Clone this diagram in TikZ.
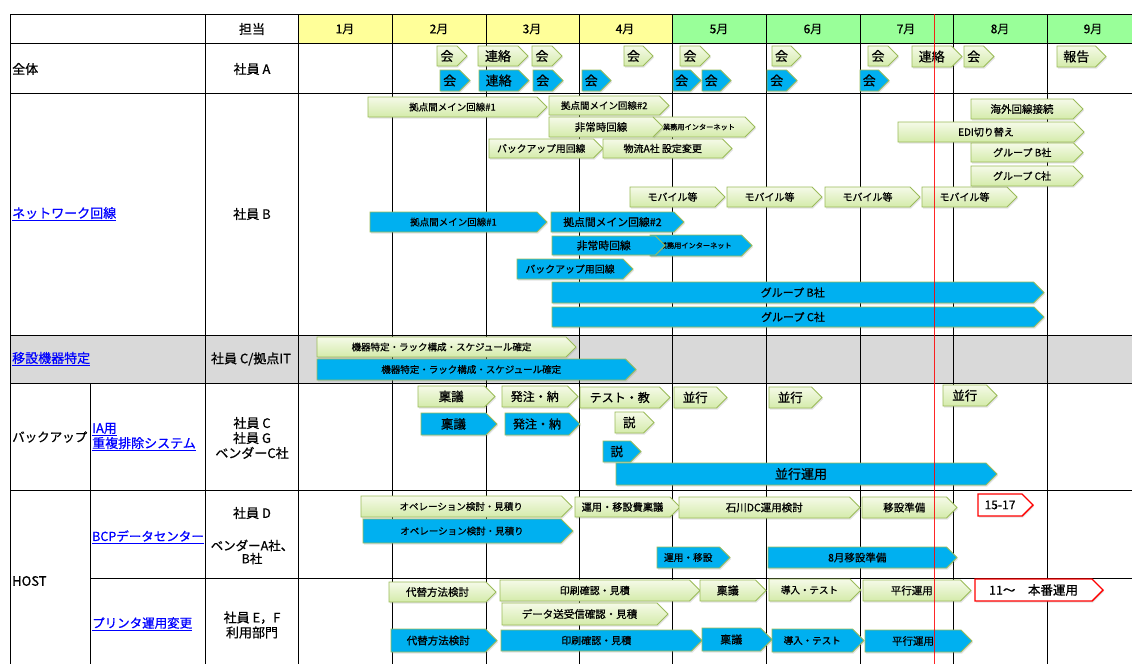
\documentclass[tikz,border=0pt]{standalone}
\usepackage{fontspec}
\setmainfont{Noto Sans CJK JP}[UprightFeatures={FakeBold=0.7}]
\usetikzlibrary{shadows}
\definecolor{gborder}{HTML}{9BBB59}
\definecolor{gtop}{HTML}{F5FAE8}
\definecolor{gbot}{HTML}{D4EBAA}
\definecolor{bfill}{HTML}{00B0F0}
\definecolor{hyell}{HTML}{FFFF99}
\definecolor{hgreen}{HTML}{99FF99}
\definecolor{rowgray}{HTML}{D9D9D9}
\definecolor{linkblue}{HTML}{0000FF}
\tikzset{
  shad/.style={drop shadow={opacity=0.22, shadow xshift=1.2pt, shadow yshift=-1.5pt}},
  gbar/.style={draw=gborder, line width=0.9pt, top color=gtop, bottom color=gbot, shad},
  bbar/.style={draw=gborder, line width=0.9pt, fill=bfill, shad},
  rbar/.style={draw=red, line width=1.4pt, fill=white, shad},
  bartext/.style={inner sep=0pt, text=black},
  gridline/.style={line width=1pt, black},
  lbl/.style={inner sep=0pt, font=\fontsize{13}{15}\selectfont},
  link/.style={lbl, text=linkblue},
  monthlbl/.style={inner sep=0pt, font=\fontsize{12}{14}\selectfont},
}
\newcommand\ganttbar[8][10]{%
  \path[#3] (#4,#6) -- ({#5-0.5*(#7-#6)},#6) -- (#5,{0.5*(#6+#7)}) -- ({#5-0.5*(#7-#6)},#7) -- (#4,#7) -- cycle;
  \node[bartext, font=\fontsize{#1}{#1}\selectfont] (#2) at ({0.5*(#4+#5-0.5*(#7-#6))},{0.5*(#6+#7)}) {#8};
}
\newcommand\ul[1]{\underline{#1}}
\begin{document}
\begin{tikzpicture}[x=1pt,y=-1pt]
\useasboundingbox (0,0) rectangle (1132,664);
\fill[white] (0,0) rectangle (1132,664);
% fills
\fill[hyell] (298,14) rectangle (672,43);
\fill[hgreen] (672,14) rectangle (1140,43);
\fill[rowgray] (10,335) rectangle (1140,383);
% grid
\foreach \yy in {14,43,93,335,383,490} \draw[gridline] (10,\yy) -- (1140,\yy);
\draw[gridline] (90,578) -- (1140,578);
\foreach \xx in {10,205,298,392,486,579,672,766,860,953,1047} \draw[gridline] (\xx,14) -- (\xx,664);
\draw[gridline] (90,383) -- (90,664);
% header
\node[lbl] (h0) at (252,29) {担当};
\node[monthlbl] (m1) at (345,29) {1月};
\node[monthlbl] (m2) at (439,29) {2月};
\node[monthlbl] (m3) at (532,29) {3月};
\node[monthlbl] (m4) at (625,29) {4月};
\node[monthlbl] (m5) at (719,29) {5月};
\node[monthlbl] (m6) at (813,29) {6月};
\node[monthlbl] (m7) at (906,29) {7月};
\node[monthlbl] (m8) at (1000,29) {8月};
\node[monthlbl] (m9) at (1093,29) {9月};
% row labels
\node[lbl, anchor=west] (r1) at (12,69) {全体};
\node[lbl] (p1) at (252,69) {社員 A};
\node[link, anchor=west] (r2) at (12,214) {\ul{ネットワーク回線}};
\node[lbl] (p2) at (252,214) {社員 B};
\node[link, anchor=west] (r3) at (12,359) {\ul{移設機器特定}};
\node[lbl] (p3) at (251,359) {社員 C/拠点IT};
\node[lbl, anchor=west, font=\fontsize{12.5}{15}\selectfont] (r4) at (12,437) {バックアップ};
\node[link, anchor=west, align=left] (r4a) at (92,437) {\ul{IA用}\\\ul{重複排除システム}};
\node[lbl, align=center] (p4) at (252,438) {社員 C\\社員 G\\ベンダーC社};
\node[lbl, anchor=west] (r5) at (12,581) {HOST};
\node[link, anchor=west, font=\fontsize{12.5}{15}\selectfont] (r5a) at (92,537) {\ul{BCPデータセンター}};
\node[lbl] (p5) at (252,513) {社員 D};
\node[lbl, align=center, font=\fontsize{12.5}{13}\selectfont] (p5b) at (252,552) {ベンダーA社、\\B社};
\node[link, anchor=west, font=\fontsize{12.5}{15}\selectfont] (r5b) at (92,624) {\ul{プリンタ運用変更}};
\node[lbl, align=center] (p6) at (252,625) {社員 E，F\\利用部門};
% ===== 全体 =====
\ganttbar[13]{z1}{gbar}{437}{467}{46}{66}{会}
\ganttbar[13]{z2}{gbar}{478}{528}{46}{66}{連絡}
\ganttbar[13]{z3}{gbar}{532}{562}{46}{66}{会}
\ganttbar[13]{z4}{gbar}{624}{653}{46}{66}{会}
\ganttbar[13]{z5}{gbar}{680}{710}{46}{66}{会}
\ganttbar[13]{z6}{gbar}{772}{801}{46}{66}{会}
\ganttbar[13]{z7}{gbar}{868}{898}{46}{66}{会}
\ganttbar[13]{z8}{gbar}{912}{962}{46}{67}{連絡}
\ganttbar[13]{z9}{gbar}{964}{994}{46}{67}{会}
\ganttbar[13]{z10}{gbar}{1057}{1106}{46}{67}{報告}
\ganttbar[13]{zb1}{bbar}{440}{470}{70}{91}{会}
\ganttbar[13]{zb2}{bbar}{479}{529}{70}{91}{連絡}
\ganttbar[13]{zb3}{bbar}{533}{563}{70}{91}{会}
\ganttbar[13]{zb4}{bbar}{582}{611}{70}{91}{会}
\ganttbar[13]{zb5}{bbar}{673}{701}{70}{91}{会}
\ganttbar[13]{zb6}{bbar}{702}{731}{70}{91}{会}
\ganttbar[13]{zb7}{bbar}{767}{797}{70}{91}{会}
\ganttbar[13]{zb8}{bbar}{860}{889}{70}{91}{会}
% ===== ネットワーク回線 =====
\ganttbar[9.5]{n1}{gbar}{368}{547}{97}{117}{拠点間メイン回線\#1}
\ganttbar[9.5]{n2}{gbar}{549}{669}{96}{115}{拠点間メイン回線\#2}
\ganttbar[7.2]{n4}{gbar}{653}{755}{117}{137}{業務用インターネット}
\ganttbar[10.5]{n3}{gbar}{549}{663}{117}{137}{非常時回線}
\ganttbar[9.8]{n5}{gbar}{489}{603}{139}{158}{バックアップ用回線}
\ganttbar[10]{n6}{gbar}{603}{732}{139}{158}{物流A社 設定変更}
\ganttbar[10]{n7}{gbar}{630}{725}{187}{207}{モバイル等}
\ganttbar[10]{n8}{gbar}{727}{822}{187}{207}{モバイル等}
\ganttbar[10]{n9}{gbar}{825}{920}{187}{207}{モバイル等}
\ganttbar[10]{n10}{gbar}{922}{1017}{187}{207}{モバイル等}
\ganttbar[10.5]{n11}{gbar}{971}{1083}{99}{119}{海外回線接続}
\ganttbar[10]{n12}{gbar}{898}{1084}{122}{142}{EDI切り替え}
\ganttbar[10]{n13}{gbar}{971}{1083}{143}{162}{グループ B社}
\ganttbar[10]{n14}{gbar}{971}{1083}{166}{186}{グループ C社}
\ganttbar[9.5]{nb1}{bbar}{370}{547}{212}{232}{拠点間メイン回線\#1}
\ganttbar[10.8]{nb2}{bbar}{551}{684}{212}{232}{拠点間メイン回線\#2}
\ganttbar[7.2]{nb4}{bbar}{650}{752}{235}{256}{業務用インターネット}
\ganttbar[10.8]{nb3}{bbar}{552}{665}{236}{255}{非常時回線}
\ganttbar[9.9]{nb5}{bbar}{517}{633}{259}{279}{バックアップ用回線}
\ganttbar[11]{nb6}{bbar}{552}{1044}{282}{303}{グループ B社}
\ganttbar[11]{nb7}{bbar}{552}{1044}{307}{327}{グループ C社}
% ===== 移設機器特定 =====
\ganttbar[9.5]{i1}{gbar}{317}{576}{337}{357}{機器特定・ラック構成・スケジュール確定}
\ganttbar[9.5]{i2}{bbar}{317}{636}{359}{380}{機器特定・ラック構成・スケジュール確定}
% ===== バックアップ =====
\ganttbar[12.5]{k1}{gbar}{418}{495}{386}{407}{稟議}
\ganttbar[12]{k2}{gbar}{502}{578}{386}{407}{発注・納}
\ganttbar[12]{k3}{gbar}{580}{670}{387}{408}{テスト・教}
\ganttbar[12.5]{k4}{gbar}{674}{727}{387}{408}{並行}
\ganttbar[12.5]{k5}{gbar}{769}{822}{387}{408}{並行}
\ganttbar[12.5]{k6}{gbar}{943}{997}{385}{406}{並行}
\ganttbar[12.5]{k7}{gbar}{615}{654}{412}{433}{説}
\ganttbar[12.5]{kb1}{bbar}{421}{497}{413}{435}{稟議}
\ganttbar[12]{kb2}{bbar}{505}{580}{413}{435}{発注・納}
\ganttbar[12.5]{kb3}{bbar}{603}{641}{441}{462}{説}
\ganttbar[13]{kb4}{bbar}{616}{997}{463}{485}{並行運用}
% ===== HOST BCP =====
\ganttbar[9.5]{h1}{gbar}{361}{572}{496}{517}{オペレーション検討・見積り}
\ganttbar[9.5]{hb1}{bbar}{363}{573}{519}{543}{オペレーション検討・見積り}
\ganttbar[10.2]{h2}{gbar}{575}{680}{497}{517}{運用・移設費稟議}
\ganttbar[10.5]{h3}{gbar}{679}{860}{497}{518}{石川DC運用検討}
\ganttbar[10.5]{h4}{gbar}{862}{957}{497}{518}{移設準備}
\ganttbar[12]{h5}{rbar}{978}{1033}{494}{516}{15-17}
\ganttbar[9.7]{hb2}{bbar}{657}{730}{547}{568}{運用・移設}
\ganttbar[10.5]{hb3}{bbar}{768}{957}{547}{568}{8月移設準備}
% ===== HOST printer =====
\ganttbar[10.5]{q1}{gbar}{389}{496}{582}{602}{代替方法検討}
\ganttbar[10]{q2}{gbar}{500}{700}{580}{601}{印刷確認・見積}
\ganttbar[10.5]{q3}{gbar}{502}{668}{603}{625}{データ送受信確認・見積}
\ganttbar[11]{q4}{gbar}{700}{766}{580}{601}{稟議}
\ganttbar[9.5]{q5}{gbar}{769}{861}{579}{601}{導入・テスト}
\ganttbar[10.5]{q6}{gbar}{863}{971}{580}{601}{平行運用}
\ganttbar[12.5]{q7}{rbar}{975}{1103}{579}{601}{11〜　本番運用}
\ganttbar[10.5]{qb1}{bbar}{391}{497}{629}{652}{代替方法検討}
\ganttbar[10]{qb2}{bbar}{501}{702}{630}{651}{印刷確認・見積}
\ganttbar[11]{qb3}{bbar}{702}{772}{628}{651}{稟議}
\ganttbar[9.5]{qb4}{bbar}{772}{864}{629}{652}{導入・テスト}
\ganttbar[10.5]{qb5}{bbar}{865}{972}{630}{652}{平行運用}
% today line
\coordinate (t0) at (934,14);
\coordinate (t1) at (934,664);
\draw[red, line width=1pt, opacity=0.85] (t0) -- (t1);
\end{tikzpicture}
\end{document}
